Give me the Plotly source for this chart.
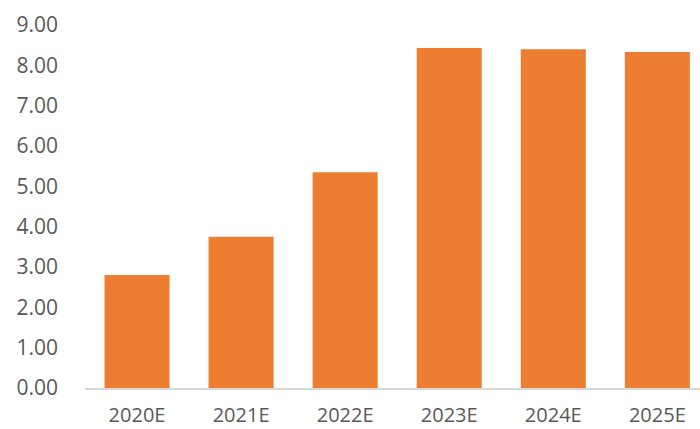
import plotly.graph_objects as go

categories = ["2020E", "2021E", "2022E", "2023E", "2024E", "2025E"]
values = [2.80, 3.75, 5.35, 8.43, 8.40, 8.33]
ytick_vals = [0, 1, 2, 3, 4, 5, 6, 7, 8, 9]
ytick_text = ["0.00", "1.00", "2.00", "3.00", "4.00", "5.00", "6.00", "7.00", "8.00", "9.00"]

fig = go.Figure(go.Bar(x=categories, y=values, marker=dict(color="#ED7D31", line=dict(width=0)), hoverinfo="skip"))

fig.update_layout(
    width=700, height=429,
    margin=dict(l=85, r=0, t=25, b=41),
    plot_bgcolor="white", paper_bgcolor="white",
    bargap=0.375,
    showlegend=False,
    font=dict(family="Open Sans", size=21, color="#595959"),
)
fig.update_xaxes(
    type="category", range=[-0.5, 5.41], automargin=False,
    showline=True, linecolor="#D9D9D9", linewidth=1.5,
    showgrid=False, ticks="", ticklabelstandoff=8,
    tickfont=dict(size=20),
)
fig.update_yaxes(
    range=[0, 9], tickvals=ytick_vals, ticktext=ytick_text, automargin=False,
    showgrid=False, zeroline=False, showline=False, ticks="",
    ticklabelstandoff=26,
)
fig.write_html(
    "out.html",
    config={"displayModeBar": False, "staticPlot": True},
    post_script="document.body.style.margin='0';document.body.style.padding='0';",
)
